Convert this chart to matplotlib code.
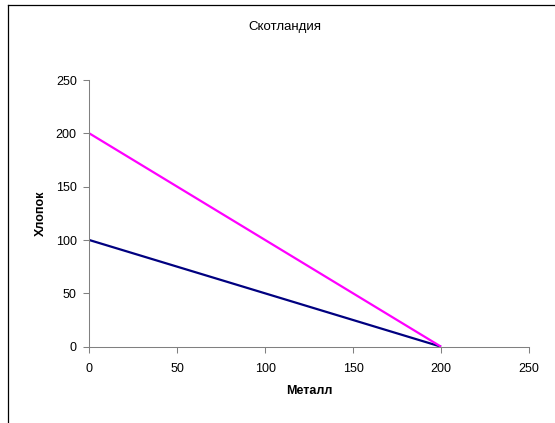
import matplotlib.pyplot as plt
from matplotlib.lines import Line2D

plt.rcParams['font.family'] = ['Liberation Sans', 'DejaVu Sans']

title = 'Скотландия'
x_label = 'Металл'
y_label = 'Хлопок'

metal = [0, 200]
cotton_a = [200, 0]   # magenta line
cotton_b = [100, 0]   # navy line
ticks = [0, 50, 100, 150, 200, 250]

fig = plt.figure(figsize=(5.55, 4.23), dpi=100)
ax = fig.add_axes([89.3 / 555, 1 - 346.7 / 423, (529 - 89.3) / 555, (346.7 - 80) / 423])

ax.plot(metal, cotton_b, color='#000080', lw=1.6, solid_capstyle='butt')
ax.plot(metal, cotton_a, color='#FF00FF', lw=1.6, solid_capstyle='butt')

ax.set_xlim(0, 250)
ax.set_ylim(0, 250)
ax.set_xticks(ticks)
ax.set_yticks(ticks)
ax.tick_params(labelsize=9, length=4, width=0.75, color='#808080')
ax.tick_params(axis='x', pad=8)
ax.tick_params(axis='y', pad=5)
for side in ['top', 'right']:
    ax.spines[side].set_visible(False)
for side in ['left', 'bottom']:
    ax.spines[side].set_color('#808080')
    ax.spines[side].set_linewidth(0.75)

fig.text(309 / 555, 1 - 391 / 423, x_label, ha='center', va='center', fontsize=9, fontweight='bold')
fig.text(41 / 555, 1 - 213 / 423, y_label, ha='center', va='center', fontsize=9,
         fontweight='bold', rotation=90)
fig.text(285 / 555, 1 - 27 / 423, title, ha='center', va='center', fontsize=9.5)

# chart area border (left and top edges visible)
fig.add_artist(Line2D([7.5 / 555, 7.5 / 555], [0, 1 - 5.5 / 423], transform=fig.transFigure,
                      color='black', lw=0.9))
fig.add_artist(Line2D([7.5 / 555, 1], [1 - 5.5 / 423, 1 - 5.5 / 423], transform=fig.transFigure,
                      color='black', lw=0.9))

fig.savefig('out.png', dpi=100)
